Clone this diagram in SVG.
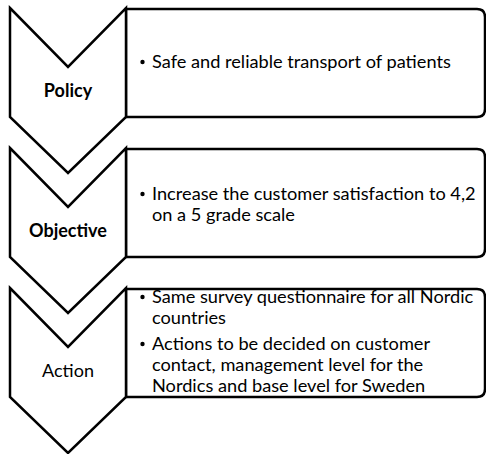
<svg xmlns="http://www.w3.org/2000/svg" width="486" height="454" viewBox="0 0 486 454">
  <style>
    .chev { fill: #ffffff; stroke: #000000; stroke-width: 2.5; stroke-linejoin: miter; }
    .box { fill: #ffffff; stroke: #000000; stroke-width: 2.5; }
    .label { font-family: Lato, "Liberation Sans", sans-serif; font-size: 18px; fill: #000000; text-anchor: middle; }
    .bold { font-weight: bold; }
    .item { font-family: Lato, "Liberation Sans", sans-serif; font-size: 18.2px; fill: #000000; }
    .dot { fill: #000000; }
  </style>
  <defs>
    <!-- chevron pointing down, origin at its top-left corner -->
    <path id="chevron" d="M0,0 L58,59 L116,0 L116,109 L58,165 L0,109 Z"/>
  </defs>

  <!-- Policy -->
  <g id="policy">
    <path class="box" d="M126,9 L477,9 Q485,9 485,17 L485,109 Q485,117 477,117 L126,117 Z"/>
    <use href="#chevron" class="chev" x="10" y="8"/>
    <text class="label bold" x="68" y="97">Policy</text>
    <circle class="dot" cx="142.5" cy="62" r="2.2"/>
    <text class="item" x="152" y="68">Safe and reliable transport of patients</text>
  </g>

  <!-- Objective -->
  <g id="objective">
    <path class="box" d="M126,149 L477,149 Q485,149 485,157 L485,249 Q485,257 477,257 L126,257 Z"/>
    <use href="#chevron" class="chev" x="10" y="148"/>
    <text class="label bold" x="68" y="237">Objective</text>
    <circle class="dot" cx="142.5" cy="194" r="2.2"/>
    <text class="item" x="152" y="200">Increase the customer satisfaction to 4,2</text>
    <text class="item" x="152" y="221">on a 5 grade scale</text>
  </g>

  <!-- Action -->
  <g id="action">
    <path class="box" d="M126,289 L477,289 Q485,289 485,297 L485,389 Q485,397 477,397 L126,397 Z"/>
    <use href="#chevron" class="chev" x="10" y="288"/>
    <text class="label" x="68" y="377">Action</text>
    <circle class="dot" cx="142.5" cy="297" r="2.2"/>
    <text class="item" x="152" y="303">Same survey questionnaire for all Nordic</text>
    <text class="item" x="152" y="324">countries</text>
    <circle class="dot" cx="142.5" cy="344" r="2.2"/>
    <text class="item" x="152" y="350">Actions to be decided on customer</text>
    <text class="item" x="152" y="371">contact, management level for the</text>
    <text class="item" x="152" y="392">Nordics and base level for Sweden</text>
  </g>

  <g id="connectors"/>
</svg>
